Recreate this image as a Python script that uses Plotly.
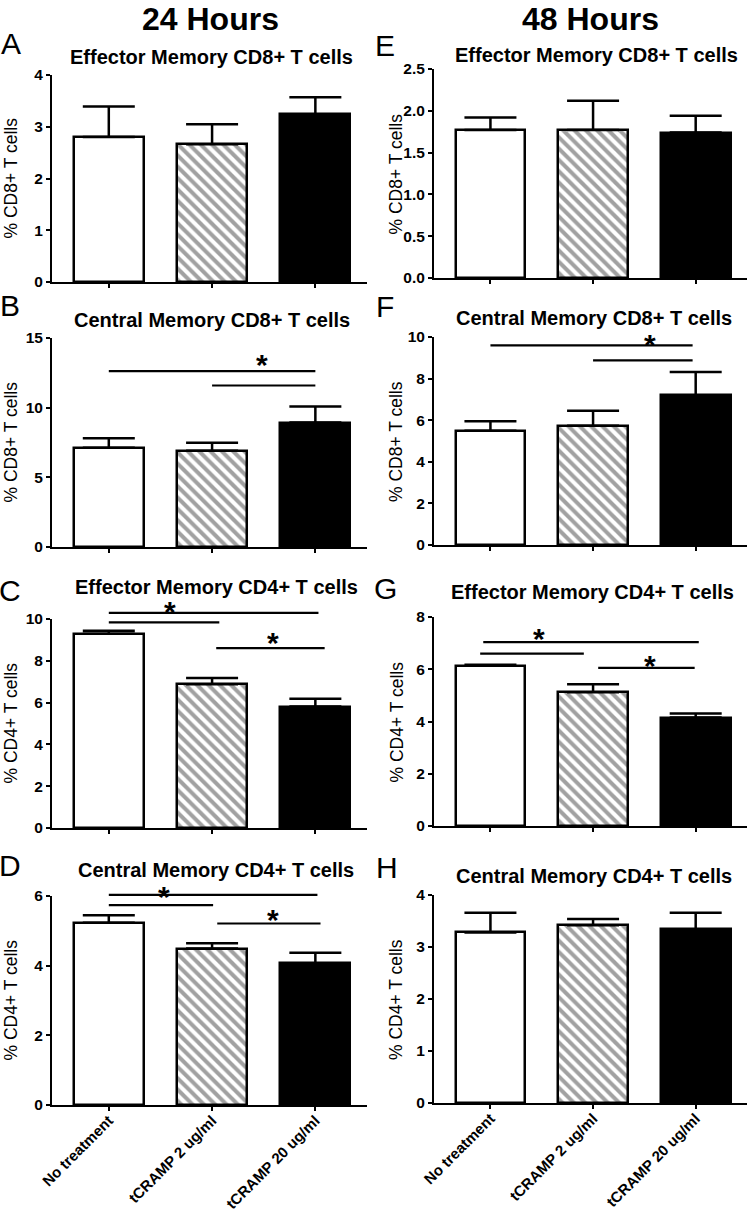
import plotly.graph_objects as go

W, H = 754, 1212

categories = ["No treatment", "tCRAMP 2 ug/ml", "tCRAMP 20 ug/ml"]
letters = ["A", "B", "C", "D", "E", "F", "G", "H"]
titles = ["Effector Memory CD8+ T cells", "Central Memory CD8+ T cells",
          "Effector Memory CD4+ T cells", "Central Memory CD4+ T cells",
          "Effector Memory CD8+ T cells", "Central Memory CD8+ T cells",
          "Effector Memory CD4+ T cells", "Central Memory CD4+ T cells"]
ytitles = ["% CD8+ T cells", "% CD8+ T cells", "% CD4+ T cells", "% CD4+ T cells",
           "% CD8+ T cells", "% CD8+ T cells", "% CD4+ T cells", "% CD4+ T cells"]
headers = ["24 Hours", "48 Hours"]

means_A = [2.80, 2.66, 3.24]; err_A = [0.59, 0.39, 0.33]
means_B = [7.13, 6.91, 8.93]; err_B = [0.67, 0.58, 1.15]
means_C = [9.30, 6.88, 5.81]; err_C = [0.14, 0.30, 0.38]
means_D = [5.23, 4.49, 4.07]; err_D = [0.22, 0.15, 0.30]
means_E = [1.77, 1.77, 1.74]; err_E = [0.15, 0.35, 0.20]
means_F = [5.49, 5.73, 7.20]; err_F = [0.46, 0.72, 1.12]
means_G = [6.13, 5.12, 4.15]; err_G = [0.04, 0.31, 0.16]
means_H = [3.28, 3.42, 3.34]; err_H = [0.38, 0.12, 0.32]

means = [means_A, means_B, means_C, means_D, means_E, means_F, means_G, means_H]
errs = [err_A, err_B, err_C, err_D, err_E, err_F, err_G, err_H]

ymax = [4, 15, 10, 6, 2.5, 10, 8, 4]
ydtick = [1, 5, 2, 2, 0.5, 2, 2, 1]

# significance brackets: (x0, x1, y) in data coords; stars (x, y)
sig_lines = [[], [(0, 2, 12.62), (1, 2, 11.59)],
             [(0, 2.03, 10.29), (0, 1.07, 9.84), (1.04, 2.09, 8.61)],
             [(0, 2.02, 6.03), (0, 1.01, 5.74), (1.05, 2.05, 5.21)],
             [], [(0, 1.97, 9.6), (1, 1.97, 8.88)],
             [(-0.07, 2.03, 7.04), (-0.1, 0.91, 6.6), (1.05, 1.99, 6.05)],
             []]
stars = [[], [(1.48, 13.7)], [(0.59, 10.75), (1.59, 9.25)], [(0.53, 6.22), (1.59, 5.55)],
         [], [(1.55, 10.0)], [(0.47, 7.5), (1.55, 6.46)], []]

XR = (-0.55, 2.5)

# layout (pixels)
xdom_px = [(52, 367)] * 4 + [(434, 747)] * 4
ydom_px = [(75, 282), (338, 547), (619, 828), (896, 1105),
           (69, 278), (337, 545), (617, 826), (895, 1103)]
title_pos = [(211, 57), (212, 320), (216, 587), (216, 870),
             (596, 55), (594, 318), (592, 592), (594, 876)]
letter_pos = [(11, 44), (10, 305), (10, 590), (10, 865),
              (385, 45), (385, 307), (385, 588), (387, 867)]
header_pos = [(210, 0), (590, 0)]

FONT = "Liberation Sans"

def px_x(p):
    return p / W

def px_y(p):
    return 1 - p / H

fig = go.Figure()
annotations = []
shapes = []

for i in range(8):
    xa = "x" if i == 0 else f"x{i+1}"
    ya = "y" if i == 0 else f"y{i+1}"
    fig.add_trace(go.Bar(
        x=[0, 1, 2], y=means[i], xaxis=xa, yaxis=ya, width=0.68,
        marker=dict(color=["white", "white", "black"],
                    line=dict(color="black", width=2.5),
                    pattern=dict(shape=["", "\\", ""], fgcolor="black", bgcolor="white",
                                 size=8, solidity=0.5)),
        error_y=dict(type="data", symmetric=False, array=errs[i], arrayminus=[0, 0, 0],
                     color="black", thickness=2.5, width=26),
        showlegend=False, hoverinfo="skip"))

    # brackets and stars in axis-domain fractions (may sit above the axis top)
    def fx(v):
        return (v - XR[0]) / (XR[1] - XR[0])

    def fy(v, m=ymax[i]):
        return v / m

    for (x0, x1, yv) in sig_lines[i]:
        shapes.append(dict(type="line", xref=f"{xa} domain", yref=f"{ya} domain",
                           x0=fx(x0), x1=fx(x1), y0=fy(yv), y1=fy(yv),
                           line=dict(color="black", width=2.2)))
    for (sx, sy) in stars[i]:
        annotations.append(dict(x=fx(sx), y=fy(sy), xref=f"{xa} domain", yref=f"{ya} domain",
                                text="*", showarrow=False, xanchor="center", yanchor="middle",
                                font=dict(family=FONT, size=30, color="black", weight="bold"),
                                yshift=-8))

    x0p, x1p = xdom_px[i]
    y0p, y1p = ydom_px[i]
    bottom = i in (3, 7)
    fig.update_layout(**{
        ("xaxis" if i == 0 else f"xaxis{i+1}"): dict(
            domain=[px_x(x0p), px_x(x1p)], anchor=ya, range=list(XR),
            tickmode="array", tickvals=[0, 1, 2],
            ticktext=categories if bottom else ["", "", ""],
            tickangle=-45, ticks="outside", ticklen=4, tickwidth=2, tickcolor="black",
            ticklabelstandoff=-5,
            showline=True, linecolor="black", linewidth=2, showgrid=False, zeroline=False,
            tickfont=dict(family=FONT, size=15, color="black", weight="bold"),
            automargin=False, fixedrange=True),
        ("yaxis" if i == 0 else f"yaxis{i+1}"): dict(
            domain=[px_y(y1p), px_y(y0p)], anchor=xa, range=[0, ymax[i]],
            dtick=ydtick[i], tick0=0, tickformat=".1f" if i == 4 else "d",
            ticks="outside", ticklen=4, tickwidth=2, tickcolor="black",
            showline=True, linecolor="black", linewidth=2, showgrid=False, zeroline=False,
            tickfont=dict(family=FONT, size=15.5, color="black", weight="bold"),
            automargin=False, fixedrange=True),
    })

    tx, ty = title_pos[i]
    annotations.append(dict(x=px_x(tx), y=px_y(ty), xref="paper", yref="paper",
                            text=titles[i], showarrow=False, xanchor="center", yanchor="middle",
                            font=dict(family=FONT, size=20, color="black", weight="bold")))
    lx, ly = letter_pos[i]
    annotations.append(dict(x=px_x(lx), y=px_y(ly), xref="paper", yref="paper",
                            text=letters[i], showarrow=False, xanchor="center", yanchor="middle",
                            font=dict(family=FONT, size=30, color="black")))
    yt_x = 10 if i < 4 else 396
    annotations.append(dict(x=px_x(yt_x), y=px_y((y0p + y1p) / 2), xref="paper", yref="paper",
                            text=ytitles[i], showarrow=False, textangle=-90,
                            xanchor="center", yanchor="middle",
                            font=dict(family=FONT, size=17.5, color="black")))

for k in range(2):
    hx, hy = header_pos[k]
    annotations.append(dict(x=px_x(hx), y=px_y(hy), xref="paper", yref="paper",
                            text=headers[k], showarrow=False, xanchor="center", yanchor="top",
                            borderpad=0,
                            font=dict(family=FONT, size=32, color="black", weight="bold")))

fig.update_layout(width=W, height=H, margin=dict(l=0, r=0, t=0, b=0),
                  paper_bgcolor="white", plot_bgcolor="white",
                  annotations=annotations, shapes=shapes, bargap=0)

fig.write_html("out.html", config={"displayModeBar": False},
               post_script="document.body.style.margin='0px';document.body.style.overflow='hidden';")
